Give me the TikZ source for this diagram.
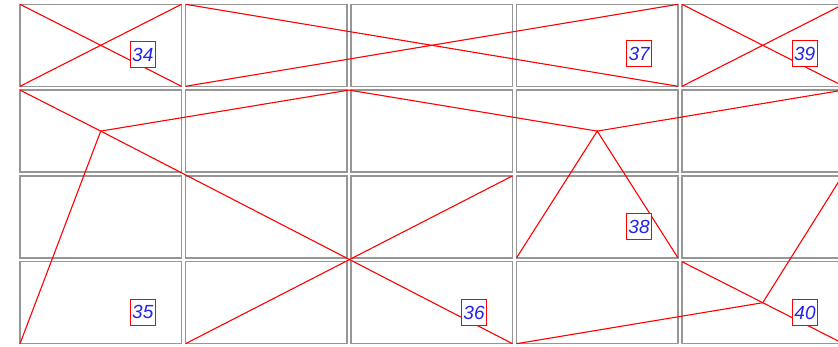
\documentclass[tikz,border=0pt]{standalone}
\usepackage{fontspec}
\newfontfamily\labfont{Liberation Sans}
\definecolor{labblue}{RGB}{35,35,235}
\definecolor{cellgray}{RGB}{150,150,150}
\tikzset{
  cell/.style={draw=cellgray, line width=1.3pt},
  edge/.style={draw=red, line width=1.1pt},
  lab/.style={draw=red, line width=1pt, fill=white, text=labblue,
    font=\labfont\itshape\fontsize{19}{20}\selectfont,
    minimum width=25pt, minimum height=26pt, inner sep=1.5pt}
}
\begin{document}
\begin{tikzpicture}[x=1pt,y=-1pt]
\clip (0,0) rectangle (838,347);
\fill[white] (0,0) rectangle (838,347);
% grid of cells
\foreach \c in {0,...,4}{
  \foreach \r in {0,...,3}{
    \draw[cell] ({20+165.5*\c},{4.3+85.8*\r}) rectangle +(161.5,82);
  }
}
% points, row 1
\coordinate (a1) at (20,4.3);
\coordinate (a2) at (181.5,86.3);
\coordinate (a3) at (20,86.3);
\coordinate (a4) at (181.5,4.3);
\coordinate (b1) at (185.5,4.3);
\coordinate (b2) at (678,86.3);
\coordinate (b3) at (185.5,86.3);
\coordinate (b4) at (678,4.3);
\coordinate (c1) at (682,4.3);
\coordinate (c2) at (843.5,86.3);
\coordinate (c3) at (682,86.3);
\coordinate (c4) at (843.5,4.3);
% points, lower rows
\coordinate (p1) at (20,90.1);
\coordinate (n1) at (100.75,131.1);
\coordinate (q1) at (349,90.1);
\coordinate (n2) at (597.25,131.1);
\coordinate (r1) at (843.5,90.1);
\coordinate (bl) at (20,343.7);
\coordinate (x1) at (512.5,343.7);
\coordinate (x2) at (512.5,175.9);
\coordinate (x3) at (185.5,343.7);
\coordinate (m1) at (516.5,257.9);
\coordinate (m2) at (678,257.9);
\coordinate (s1) at (682,261.7);
\coordinate (n3) at (762.75,302.7);
\coordinate (s2) at (843.5,343.7);
\coordinate (s3) at (843.5,174);
\coordinate (s4) at (516.5,343.7);
% red edges
\draw[edge] (a1) -- (a2);
\draw[edge] (a3) -- (a4);
\draw[edge] (b1) -- (b2);
\draw[edge] (b3) -- (b4);
\draw[edge] (c1) -- (c2);
\draw[edge] (c3) -- (c4);
\draw[edge] (p1) -- (n1) -- (q1) -- (n2) -- (r1);
\draw[edge] (n1) -- (bl);
\draw[edge] (n1) -- (x1);
\draw[edge] (x2) -- (x3);
\draw[edge] (m1) -- (n2) -- (m2);
\draw[edge] (s1) -- (n3) -- (s2);
\draw[edge] (s3) -- (n3) -- (s4);
% labels
\node[lab] (l34) at (142.8,54.7) {34};
\node[lab] (l37) at (639.2,54) {37};
\node[lab] (l39) at (804.7,54) {39};
\node[lab] (l38) at (639,226.7) {38};
\node[lab] (l35) at (142.8,312.3) {35};
\node[lab] (l36) at (474,313) {36};
\node[lab] (l40) at (805,313) {40};
\end{tikzpicture}
\end{document}
